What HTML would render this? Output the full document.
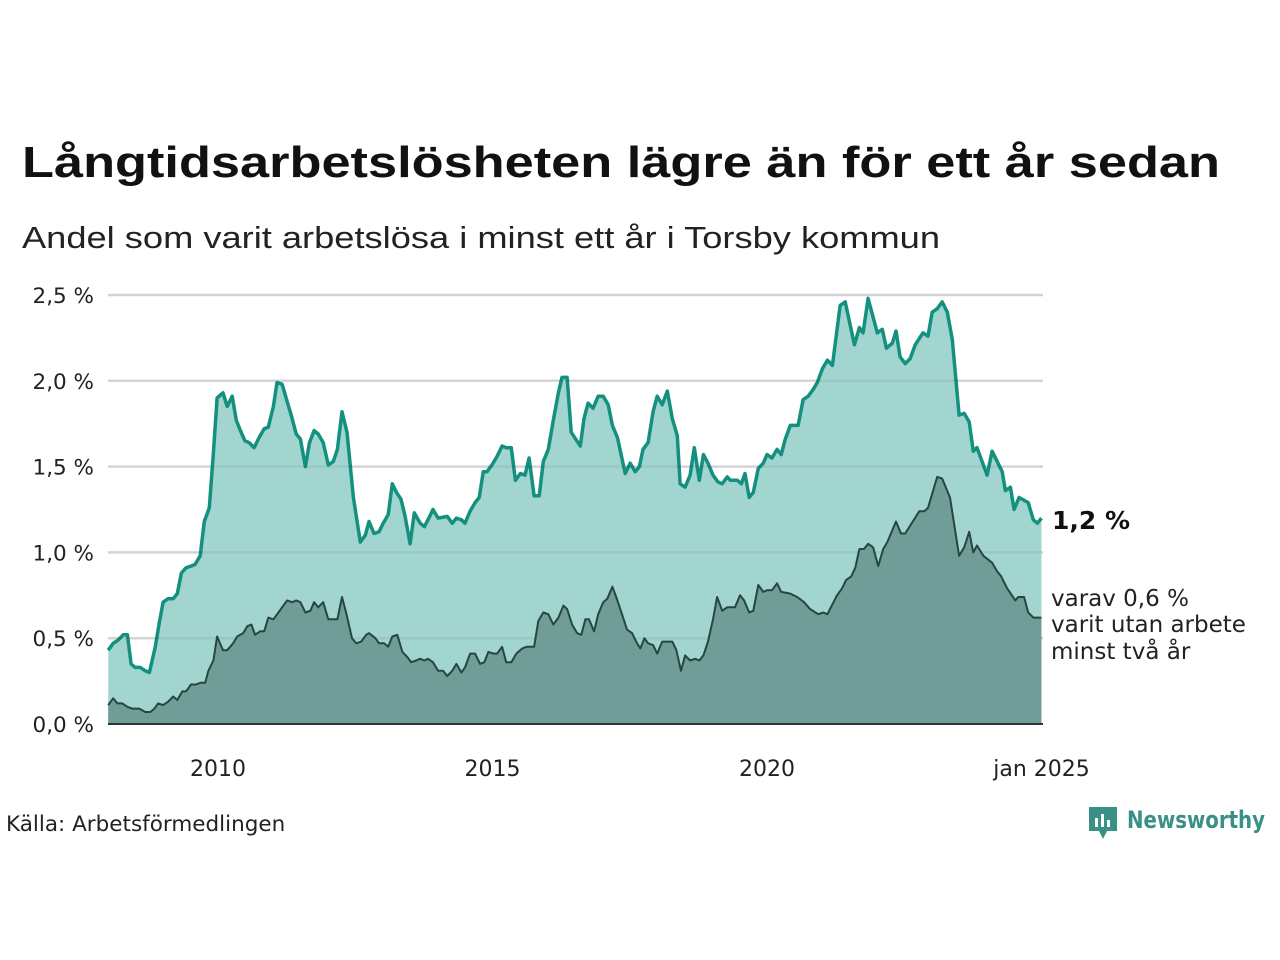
<!DOCTYPE html>
<html><head><meta charset="utf-8"><style>
html,body{margin:0;padding:0;background:#fff;}
svg{display:block;font-family:"DejaVu Sans","Liberation Sans",sans-serif;}
</style></head><body>
<svg id="chart" width="1280" height="960" viewBox="0 0 1280 960">
<text x="22" y="177" font-size="44" font-weight="bold" fill="#111" font-family="Liberation Sans, sans-serif" textLength="1198" lengthAdjust="spacingAndGlyphs">Långtidsarbetslösheten lägre än för ett år sedan</text>
<text x="22" y="248" font-size="31" fill="#222" font-family="Liberation Sans, sans-serif" textLength="918" lengthAdjust="spacingAndGlyphs">Andel som varit arbetslösa i minst ett år i Torsby kommun</text>
<g id="grid"></g>
<g id="yticks"></g>
<g id="areas"></g>
<line x1="108" y1="724" x2="1043" y2="724" stroke="#333" stroke-width="2"/>
<g id="xticks"></g>
<text x="1052" y="529" font-size="25" font-weight="bold" fill="#111">1,2 %</text>
<text font-size="23" fill="#222"><tspan x="1051" y="606">varav 0,6 %</tspan><tspan x="1051" y="632">varit utan arbete</tspan><tspan x="1051" y="659">minst två år</tspan></text>
<text x="6" y="831" font-size="21.5" fill="#222">Källa: Arbetsförmedlingen</text>
<g>
<path d="M1089 807 h28 v24 h-10 l-4 8 l-4 -8 h-10 z" fill="#3a8f86"/>
<rect x="1095" y="818" width="3" height="9" fill="#fff"/><rect x="1101" y="814" width="3" height="13" fill="#fff"/><rect x="1107" y="820" width="3" height="7" fill="#fff"/>
<text x="1127" y="828" font-size="24" font-weight="bold" fill="#3a8f86" textLength="138" lengthAdjust="spacingAndGlyphs">Newsworthy</text>
</g>
</svg>
<script>
const yTicks=[0,0.5,1.0,1.5,2.0,2.5];
const yTickLabels=["0,0 %","0,5 %","1,0 %","1,5 %","2,0 %","2,5 %"];
const xTicks=[24,84,144,204];
const xTickLabels=["2010","2015","2020","jan 2025"];
// months since Jan 2008
const totalMonths=[0,1.1,2.2,3.3,4.2,5,5.9,7,8.1,9,10.3,11.1,12,13.1,14.2,15.1,16,17,18.1,19,20.1,21,22.1,23,23.8,25.1,26,27.1,28,28.9,29.9,30.8,31.9,33,34.1,35,36.1,36.9,38,39.1,40,41.1,42,43.1,44,45,45.9,47,48.1,49.2,50.1,51.1,52.2,53.6,55.1,56.2,57,58.1,59.2,60.1,61.2,62.1,63,64,64.9,66,66.9,68.2,69.1,69.9,71,72.1,74.1,75.2,76.1,77.2,78,79.1,80.2,81.1,82,82.8,83.9,85,86.1,87,88.1,89,90.1,91.1,92,93.1,94.2,95.1,96.2,97.3,98.4,99.2,100.3,101.2,103.2,104,104.9,106,107.1,108.2,109.3,110.2,111.3,113,114.1,115.2,116.1,116.9,118,119.1,120,121.1,122.2,123.3,124.4,125,126.1,127.2,128.1,129.2,130.1,131.1,132.2,133.3,134.2,135.3,136,137.5,138.4,139.2,140.1,141,142.1,143.2,144,145.1,146.2,147.1,148,149.1,150.8,151.9,153,154.1,155,156.1,157.2,158.3,160,161.1,163.1,164.2,165,166.1,168.1,169.2,170.1,171.4,172.2,173.1,174.2,175.3,176.4,178.1,179.2,180.1,181.2,182.3,183.4,184.5,186,187.1,188.2,189.1,189.9,192.1,193.2,195.4,196.1,197.2,198,199.1,201.1,202.2,203.1,204];
const totalValues=[0.43,0.47,0.49,0.52,0.52,0.35,0.33,0.33,0.31,0.30,0.45,0.58,0.71,0.73,0.73,0.76,0.88,0.91,0.92,0.93,0.98,1.18,1.26,1.58,1.90,1.93,1.85,1.91,1.77,1.71,1.65,1.64,1.61,1.67,1.72,1.73,1.85,1.99,1.98,1.88,1.80,1.69,1.66,1.50,1.64,1.71,1.69,1.64,1.51,1.53,1.60,1.82,1.70,1.32,1.06,1.10,1.18,1.11,1.12,1.17,1.22,1.40,1.35,1.31,1.21,1.05,1.23,1.17,1.15,1.19,1.25,1.20,1.21,1.17,1.20,1.19,1.17,1.24,1.29,1.32,1.47,1.47,1.51,1.56,1.62,1.61,1.61,1.42,1.46,1.45,1.55,1.33,1.33,1.53,1.60,1.77,1.93,2.02,2.02,1.70,1.62,1.78,1.87,1.84,1.91,1.91,1.86,1.74,1.67,1.46,1.52,1.47,1.50,1.60,1.64,1.82,1.91,1.86,1.94,1.78,1.68,1.40,1.38,1.45,1.61,1.42,1.57,1.52,1.45,1.41,1.40,1.44,1.42,1.42,1.40,1.46,1.32,1.35,1.49,1.52,1.57,1.55,1.60,1.57,1.66,1.74,1.74,1.89,1.91,1.95,1.99,2.07,2.12,2.09,2.44,2.46,2.21,2.31,2.28,2.48,2.28,2.30,2.19,2.22,2.29,2.14,2.10,2.13,2.21,2.28,2.26,2.40,2.42,2.46,2.40,2.24,1.80,1.81,1.76,1.59,1.61,1.45,1.59,1.47,1.36,1.38,1.25,1.32,1.29,1.19,1.17,1.20];
const longMonths=[0,1.1,2,3.1,4.2,5.2,6.8,8.1,9.2,10.1,10.9,12,13.1,14.2,15.1,16.2,17,18.1,19.2,20.1,21.2,21.9,23,23.8,25.1,26,27.3,28.2,29.5,30.4,31.3,32.1,33.2,34.1,35,36.1,37.2,38.3,39.1,40.2,41.1,42,43.1,44.2,45,45.9,47,48.1,50.1,51.1,52,53.3,54.2,55.3,56.4,57,58.4,59.2,60.3,61.2,62.1,63.2,64.3,65.4,66.2,67.3,68.2,69.1,69.9,71,72.1,73.2,74.1,75.2,76.1,77.2,78,79.1,80.2,81.3,82.2,83.1,84.2,85,86.1,87,88.1,89.2,90.5,91.4,93.1,94,95.1,96.2,97.3,98.4,99.5,100.3,101.4,102.5,103.4,104.3,105.1,106.2,107.1,108.2,109.1,110.2,111.3,112.3,113.4,114.5,115.4,116.3,117.2,118,119.1,120,121.1,123.3,124.2,125.2,126.1,127.2,128.3,129.2,130.1,131.1,132.2,133.1,134.2,135.3,137,138.1,139,140.1,141,142.1,143.2,144,145.1,146.2,147.1,149.1,150.6,152.1,153.4,155.2,156.3,157.2,159.3,160.4,161.3,162.4,163.3,164.2,165.2,166.1,167.2,168.3,169.4,170.3,172.2,173.3,174.2,177.3,178.4,179.2,181.2,182.3,184,186,187.1,188.2,189.1,189.9,191.3,193.2,194.3,195.2,196.5,198.3,198.9,200.2,201.1,202.2,204];
const longValues=[0.11,0.15,0.12,0.12,0.10,0.09,0.09,0.07,0.07,0.09,0.12,0.11,0.13,0.16,0.14,0.19,0.19,0.23,0.23,0.24,0.24,0.31,0.37,0.51,0.43,0.43,0.47,0.51,0.53,0.57,0.58,0.52,0.54,0.54,0.62,0.61,0.65,0.69,0.72,0.71,0.72,0.71,0.65,0.66,0.71,0.68,0.71,0.61,0.61,0.74,0.65,0.50,0.47,0.48,0.52,0.53,0.50,0.47,0.47,0.45,0.51,0.52,0.42,0.39,0.36,0.37,0.38,0.37,0.38,0.36,0.31,0.31,0.28,0.31,0.35,0.30,0.33,0.41,0.41,0.35,0.36,0.42,0.41,0.41,0.45,0.36,0.36,0.41,0.44,0.45,0.45,0.60,0.65,0.64,0.58,0.62,0.69,0.67,0.58,0.53,0.52,0.61,0.61,0.54,0.64,0.71,0.73,0.80,0.72,0.64,0.55,0.53,0.48,0.44,0.50,0.47,0.46,0.41,0.48,0.48,0.43,0.31,0.40,0.37,0.38,0.37,0.40,0.48,0.61,0.74,0.66,0.68,0.68,0.75,0.72,0.65,0.66,0.81,0.77,0.78,0.78,0.82,0.77,0.76,0.74,0.71,0.67,0.64,0.65,0.64,0.75,0.79,0.84,0.86,0.91,1.02,1.02,1.05,1.03,0.92,1.02,1.06,1.18,1.11,1.11,1.24,1.24,1.26,1.44,1.43,1.32,0.98,1.03,1.12,1.00,1.04,0.98,0.94,0.89,0.86,0.79,0.72,0.74,0.74,0.65,0.62,0.62];

const NS="http://www.w3.org/2000/svg";
const X0=108.2,X1=1041.5,M1=204,Y0=724,Y1=295,V1=2.5;
function xS(m){return X0+(X1-X0)*m/M1;}
function yS(v){return Y0-(Y0-Y1)*v/V1;}
function mk(tag,attrs,parent){const e=document.createElementNS(NS,tag);for(const k in attrs)e.setAttribute(k,attrs[k]);parent.appendChild(e);return e;}
const grid=document.getElementById('grid'),yt=document.getElementById('yticks'),xt=document.getElementById('xticks'),areas=document.getElementById('areas');
yTicks.forEach((v,i)=>{
  if(v>0){const l=mk('line',{x1:108,x2:1043,y1:yS(v),y2:yS(v),stroke:'#e2e2e6','stroke-width':2.5},grid);
  
  }
  const t=mk('text',{x:94,y:yS(v)+8,'font-size':21.5,fill:'#222','text-anchor':'end'},yt);t.textContent=yTickLabels[i];
  
  
});
xTicks.forEach((m,i)=>{
  const t=mk('text',{x:xS(m),y:776,'font-size':22,fill:'#222','text-anchor':'middle'},xt);t.textContent=xTickLabels[i];
  
  
});
function pts(ms,vs){return ms.map((m,i)=>xS(m).toFixed(1)+','+yS(vs[i]).toFixed(1));}
function area(ms,vs,fill,stroke,sw,name){
  const p=pts(ms,vs);
  const a=mk('path',{d:'M'+xS(ms[0])+','+Y0+' L'+p.join(' L')+' L'+xS(ms[ms.length-1])+','+Y0+' Z',fill:fill},areas);
  
  
  const l=mk('path',{d:'M'+p.join(' L'),fill:'none',stroke:stroke,'stroke-width':sw,'stroke-linejoin':'round'},areas);
  
  
}
area(totalMonths,totalValues,'#a3d5d0','#14907f',3.5,'total-unemployed');
yTicks.forEach(v=>{if(v>0){const l=mk('line',{x1:108,x2:1043,y1:yS(v),y2:yS(v),stroke:'#000','stroke-opacity':0.06,'stroke-width':2.5},areas);

}});
area(longMonths,longValues,'#709d97','#27463f',2,'two-year-unemployed');
</script>
</body></html>
